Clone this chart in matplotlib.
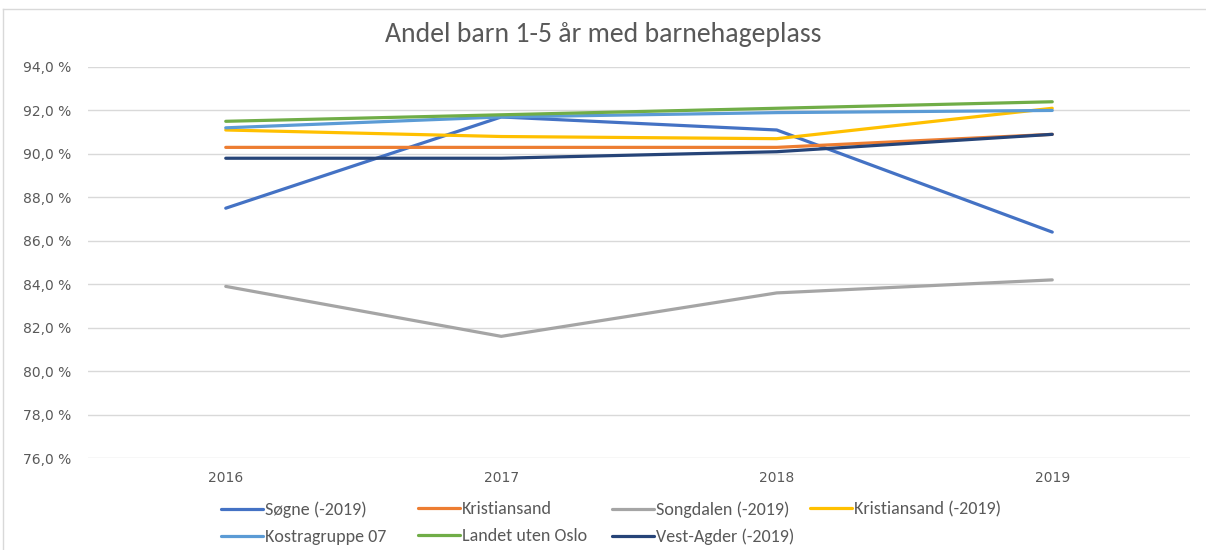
import matplotlib
matplotlib.use("Agg")
import matplotlib.pyplot as plt
from matplotlib import font_manager
from matplotlib.ticker import FuncFormatter
from matplotlib.lines import Line2D

names = {f.name for f in font_manager.fontManager.ttflist}
narrow = "Carlito" if "Carlito" in names else "Liberation Sans"
plt.rcParams["font.family"] = ["DejaVu Sans"]

years = ["2016", "2017", "2018", "2019"]
sogne = [87.5, 91.7, 91.1, 86.4]
kristiansand = [90.3, 90.3, 90.3, 90.9]
songdalen = [83.9, 81.6, 83.6, 84.2]
kristiansand_old = [91.1, 90.8, 90.7, 92.1]
kostra07 = [91.2, 91.7, 91.9, 92.0]
landet = [91.5, 91.8, 92.1, 92.4]
vestagder = [89.8, 89.8, 90.1, 90.9]

series = [
    ("Søgne (-2019)", sogne, "#4472C4"),
    ("Kristiansand", kristiansand, "#ED7D31"),
    ("Songdalen (-2019)", songdalen, "#A5A5A5"),
    ("Kristiansand (-2019)", kristiansand_old, "#FFC000"),
    ("Kostragruppe 07", kostra07, "#5B9BD5"),
    ("Landet uten Oslo", landet, "#70AD47"),
    ("Vest-Agder (-2019)", vestagder, "#264478"),
]

W, H = 1206, 550
fig = plt.figure(figsize=(W / 100, H / 100), dpi=100)
# chart border (top and left visible)
fig.lines.append(Line2D([3 / W, 1.0], [1 - 9 / H, 1 - 9 / H], transform=fig.transFigure,
                        color="#d9d9d9", linewidth=1))
fig.lines.append(Line2D([3 / W, 3 / W], [0.0, 1 - 9 / H], transform=fig.transFigure,
                        color="#d9d9d9", linewidth=1))

ax = fig.add_axes([88 / W, 1 - 458 / H, (1190 - 88) / W, 391 / H])

x = list(range(len(years)))
handles = []
for name, vals, col in series:
    h, = ax.plot(x, vals, color=col, linewidth=2.3, label=name, solid_capstyle="round")
    handles.append(h)

ax.set_xlim(-0.5, 3.5)
ax.set_ylim(76, 94)
ax.set_yticks([76, 78, 80, 82, 84, 86, 88, 90, 92, 94])
ax.yaxis.set_major_formatter(FuncFormatter(lambda v, p: f"{v:.1f} %".replace(".", ",")))
ax.set_xticks(x)
ax.set_xticklabels(years)
ax.grid(axis="y", color="#d9d9d9", linewidth=1)
ax.set_axisbelow(True)
for s in ["top", "right", "left", "bottom"]:
    ax.spines[s].set_visible(False)
ax.tick_params(axis="both", length=0, labelsize=10, colors="#595959")
ax.tick_params(axis="y", pad=12)
ax.tick_params(axis="x", pad=9)

fig.text(0.5, 1 - 42 / H, "Andel barn 1-5 år med barnehageplass", ha="center", va="baseline",
         fontsize=20, color="#595959", family=[narrow, "DejaVu Sans"])

# legend laid out as 4 equal-width columns, row-wise order like the original
columns = [[0, 4], [1, 5], [2, 6], [3]]
col_x = [221, 418, 612, 810]
for idxs, cx in zip(columns, col_x):
    leg = fig.legend([handles[i] for i in idxs], [series[i][0] for i in idxs],
                     loc="upper left", bbox_to_anchor=(cx / W, 1 - 501.5 / H), ncol=1,
                     frameon=False, prop={"family": [narrow, "DejaVu Sans"], "size": 13},
                     handlelength=2.3, handletextpad=0.12,
                     labelspacing=0.6, borderaxespad=0, borderpad=0)
    for t in leg.get_texts():
        t.set_color("#595959")

fig.savefig("out.png", dpi=100)
